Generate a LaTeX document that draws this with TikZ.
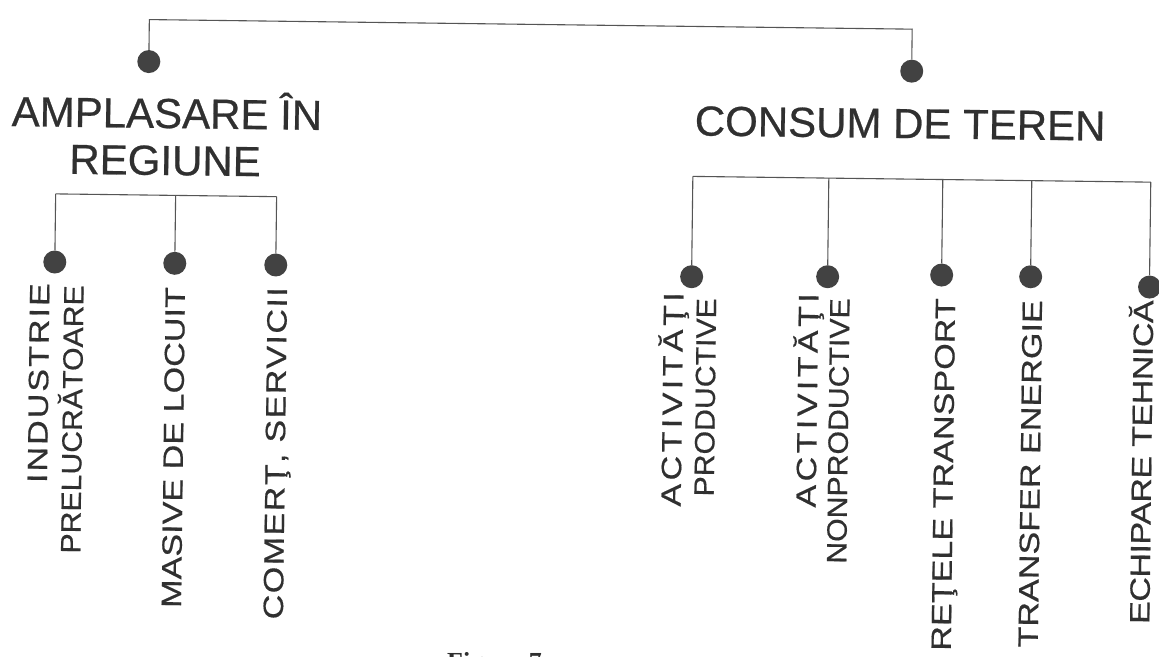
\documentclass[tikz,border=0pt]{standalone}
\usepackage{fontspec}
\setmainfont{Liberation Sans}
\newfontfamily\headfont[FakeBold=0.6]{Liberation Sans}
\newfontfamily\labfont[FakeStretch=1.22,FakeBold=0.5]{Liberation Sans}
\newfontfamily\subfont[FakeStretch=1.08,FakeBold=0.5]{Liberation Sans}
\newfontfamily\capfont{Liberation Serif}

\definecolor{ink}{HTML}{303030}
\definecolor{wirec}{HTML}{555555}
\definecolor{dotc}{HTML}{424242}

\begin{document}
\begin{tikzpicture}[x=1pt,y=-1pt,
  wire/.style={draw=wirec,line width=1.1pt},
  knob/.style={circle,fill=dotc,minimum size=23pt,inner sep=0pt},
  head/.style={text=ink,font=\headfont\fontsize{42}{47}\selectfont,inner sep=0pt,anchor=base},
  leaf/.style={text=ink,font=\labfont\fontsize{28}{30}\selectfont,inner sep=0pt,rotate=90,anchor=base east},
  subleaf/.style={text=ink,font=\subfont\fontsize{28}{30}\selectfont,inner sep=0pt,rotate=90,anchor=base east}]

\useasboundingbox (0,0) rectangle (1159,656);
\fill[white] (0,0) rectangle (1159,656);

\begin{scope}[rotate around={-0.72:(580,328)}, transform shape]

% top level
\node[knob] (amplDot) at (145.5,67) {};
\node[knob] (consDot) at (908.5,67) {};
\coordinate (topL) at (145.5,25);
\coordinate (topR) at (908.5,25);
\draw[wire] (amplDot) -- (topL) -- (topR) -- (consDot);

\node[head] (ampl) at (164.3,133.2) {AMPLASARE ÎN};
\node[head] (regiune) at (163,180.2) {REGIUNE};
\node[head] (consum) at (897.6,134) {CONSUM DE TEREN};

% left branch
\coordinate (lb1) at (54,200.5);
\coordinate (lb2) at (174,200.5);
\coordinate (lb3) at (275,200.5);
\node[knob] (indDot) at (54,268.6) {};
\node[knob] (masDot) at (174,268.4) {};
\node[knob] (comDot) at (275,268.8) {};
\draw[wire] (lb1) -- (lb3);
\draw[wire] (lb1) -- (indDot);
\draw[wire] (lb2) -- (masDot);
\draw[wire] (lb3) -- (comDot);

\node[leaf] (ind) at (48.9,289.8) {\addfontfeature{LetterSpace=7}INDUSTRIE};
\node[subleaf] (prel) at (83.1,291.4) {PRELUCRĂTOARE};
\node[leaf] (mas) at (184.5,292) {MASIVE DE LOCUIT};
\node[leaf] (com) at (286.5,290.8) {\addfontfeature{LetterSpace=5}COMERŢ, SERVICII};

% right branch
\coordinate (rb1) at (691,175);
\coordinate (rb2) at (827,175);
\coordinate (rb3) at (941,175);
\coordinate (rb4) at (1030,175);
\coordinate (rb5) at (1149,175);
\node[knob] (apDot) at (691,275.3) {};
\node[knob] (anDot) at (827,273.6) {};
\node[knob] (rtDot) at (941,270.5) {};
\node[knob] (teDot) at (1030,271.1) {};
\node[knob] (ecDot) at (1149,279.9) {};
\draw[wire] (rb1) -- (rb5);
\draw[wire] (rb1) -- (apDot);
\draw[wire] (rb2) -- (anDot);
\draw[wire] (rb3) -- (rtDot);
\draw[wire] (rb4) -- (teDot);
\draw[wire] (rb5) -- (ecDot);

\node[leaf] (ap) at (682.9,290.9) {\addfontfeature{LetterSpace=12}ACTIVITĂŢI};
\node[subleaf] (prod) at (715.8,296.4) {PRODUCTIVE};
\node[leaf] (an) at (817.9,290.2) {\addfontfeature{LetterSpace=12}ACTIVITĂŢI};
\node[subleaf] (nonprod) at (849.2,294.8) {NONPRODUCTIVE};
\node[leaf] (rt) at (954.8,293.5) {REŢELE TRANSPORT};
\node[leaf] (te) at (1041.7,294.3) {TRANSFER ENERGIE};
\node[leaf] (ec) at (1153,293) {\addfontfeature{LetterSpace=-2}ECHIPARE TEHNICĂ};
\end{scope}

% caption, cut by the lower page edge
\begin{scope}
\clip (0,0) rectangle (1159,656);
\node[text=ink,font=\capfont\bfseries\fontsize{26}{28}\selectfont,inner sep=0pt,anchor=base west] (fig) at (447,670) {Figura 7};
\end{scope}
\end{tikzpicture}
\end{document}
